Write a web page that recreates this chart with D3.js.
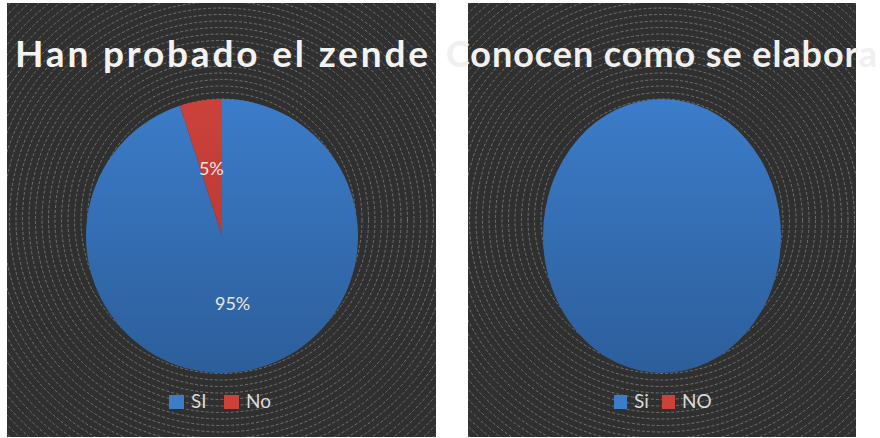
<!DOCTYPE html>
<html>
<head>
<meta charset="utf-8">
<script src="https://cdn.jsdelivr.net/npm/d3@7"></script>
<style>
  html, body { margin: 0; padding: 0; background: #ffffff; }
  svg { display: block; }
</style>
</head>
<body>
<svg id="chart" width="880" height="438"></svg>
<script>
// data
const leftTitle = "Han probado el zende";
const leftCategories = ["SI", "No"];
const leftValues = [95, 5];

const rightTitle = "Conocen como se elabora";
const rightCategories = ["Si", "NO"];
const rightValues = [100, 0];

const sliceColors = [["#3c7cc9", "#2c5e9b"], ["#cb423b", "#ad332d"]];

const svg = d3.select("#chart");
const defs = svg.append("defs");

// one panel = dark box with ring texture, pie and legend
function drawPanel(opts) {
    var id = opts.id;
    var g = svg.append("g");

    // clip for the ring texture
    defs.append("clipPath").attr("id", "clip-" + id)
        .append("rect")
        .attr("x", opts.x).attr("y", opts.y)
        .attr("width", opts.w).attr("height", opts.h);

    g.append("rect")
        .attr("x", opts.x).attr("y", opts.y)
        .attr("width", opts.w).attr("height", opts.h)
        .attr("fill", "#303030");

    // concentric rings around the panel centre
    var rings = g.append("g").attr("clip-path", "url(#clip-" + id + ")");
    var rcx = opts.x + opts.w / 2, rcy = opts.y + opts.h / 2;
    var radii = d3.range(4, 330, 6.5);
    rings.selectAll("circle")
        .data(radii)
        .enter()
        .append("circle")
        .attr("cx", rcx).attr("cy", rcy)
        .attr("r", function(d) { return d; })
        .attr("fill", "none")
        .attr("stroke", "#727272")
        .attr("stroke-width", 1)
        .attr("stroke-dasharray", "3 2");

    // gradients for the slices (in the pie's local space)
    opts.categories.forEach(function(c, i) {
        var grad = defs.append("linearGradient")
            .attr("id", "grad-" + id + "-" + i)
            .attr("gradientUnits", "userSpaceOnUse")
            .attr("x1", 0).attr("x2", 0)
            .attr("y1", -opts.r).attr("y2", opts.r);
        grad.append("stop").attr("offset", "0%").attr("stop-color", sliceColors[i][0]);
        grad.append("stop").attr("offset", "100%").attr("stop-color", sliceColors[i][1]);
    });

    // pie
    var pie = d3.pie().sort(null).value(function(d) { return d.value; });
    var data = opts.categories.map(function(c, i) { return { name: c, value: opts.values[i], i: i }; });
    var arc = d3.arc().innerRadius(0).outerRadius(opts.r);
    var pieG = g.append("g")
        .attr("transform", "translate(" + opts.cx + "," + opts.cy + ") scale(" + opts.sx + ",1)");
    pieG.selectAll("path")
        .data(pie(data).filter(function(d) { return d.data.value > 0; }))
        .enter()
        .append("path")
        .attr("d", arc)
        .attr("fill", function(d) { return "url(#grad-" + id + "-" + d.data.i + ")"; });

    if (opts.showLabels) {
        var total = d3.sum(opts.values);
        pieG.selectAll("text")
            .data(pie(data).filter(function(d) { return d.data.value > 0 && d.data.value < total; }))
            .enter()
            .append("text")
            .attr("transform", function(d) {
                var c = arc.centroid(d);
                return "translate(" + c[0] + "," + c[1] + ") scale(" + (1 / opts.sx) + ",1)";
            })
            .attr("dy", "0.35em")
            .attr("text-anchor", "middle")
            .attr("font-family", "Lato, 'Open Sans', sans-serif")
            .attr("font-size", 18)
            .attr("fill", "#e6e6e6")
            .text(function(d) { return Math.round(d.data.value / total * 100) + "%"; });
    }

    // legend
    var leg = g.append("g").attr("transform", "translate(" + opts.legX + "," + opts.legY + ")");
    var item = leg.selectAll("g")
        .data(opts.categories)
        .enter()
        .append("g")
        .attr("transform", function(d, i) { return "translate(" + (i * opts.legStep) + ",0)"; });
    item.append("rect")
        .attr("width", opts.sw).attr("height", 14)
        .attr("fill", function(d, i) { return sliceColors[i][0]; });
    item.append("text")
        .attr("x", opts.sw + 7).attr("y", 13)
        .attr("font-family", "Lato, 'Open Sans', sans-serif")
        .attr("font-size", 19)
        .attr("fill", "#d9d9d9")
        .text(function(d) { return d; });

    return g;
}

drawPanel({
    id: "left", x: 7, y: 3, w: 429, h: 434,
    categories: leftCategories, values: leftValues,
    cx: 222, cy: 236, r: 137, sx: 136 / 137,
    showLabels: true,
    legX: 169, legY: 395, legStep: 55, sw: 15
});

drawPanel({
    id: "right", x: 468, y: 3, w: 388, h: 434,
    categories: rightCategories, values: rightValues,
    cx: 662, cy: 236, r: 137, sx: 119 / 137,
    showLabels: false,
    legX: 614, legY: 395, legStep: 48, sw: 13
});

// titles drawn last so they run over the panel edges like the original
svg.append("text")
    .attr("x", 15).attr("y", 67)
    .attr("textLength", 413).attr("lengthAdjust", "spacing")
    .attr("font-family", "Lato, 'Open Sans', sans-serif")
    .attr("font-weight", "bold")
    .attr("font-size", 37)
    .attr("fill", "#f2f2f2")
    .text(leftTitle);

svg.append("text")
    .attr("x", 446).attr("y", 67)
    .attr("textLength", 431).attr("lengthAdjust", "spacing")
    .attr("font-family", "Lato, 'Open Sans', sans-serif")
    .attr("font-weight", "bold")
    .attr("font-size", 36)
    .attr("fill", "#f0f0f0")
    .text(rightTitle);
</script>
</body>
</html>
